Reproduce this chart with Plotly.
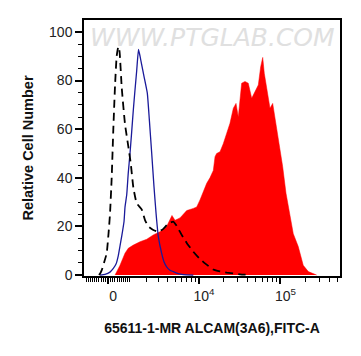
import numpy as np
import plotly.graph_objects as go

# Biexponential display: position (decades) = asinh(value / W) / ln(10)
W = 1548.0

def biex(v):
    return np.arcsinh(np.asarray(v, dtype=float) / W) / np.log(10)

# Red filled histogram (stained sample)
red_x = [0.086, 0.147, 0.208, 0.248, 0.310, 0.392, 0.474, 0.554, 0.636, 0.718,
         0.783, 0.820, 0.881, 0.963, 1.044, 1.086, 1.126, 1.166, 1.208, 1.248,
         1.289, 1.310, 1.330, 1.371, 1.411, 1.453, 1.493, 1.534, 1.567, 1.595,
         1.636, 1.677, 1.717, 1.759, 1.799, 1.840, 1.869, 1.894, 1.913, 1.950,
         1.983, 2.016, 2.056, 2.097, 2.138, 2.179, 2.219, 2.268, 2.329, 2.390,
         2.452, 2.554]
red_y = [0, 4, 9, 11, 12.3, 13.7, 14.7, 16.5, 17.8, 20,
         24.5, 22.5, 23.5, 26.5, 27.4, 28, 30.9, 34, 37.7, 40,
         43, 48.7, 50, 50.7, 54, 58.3, 62.4, 68.6, 70.6, 65,
         78.9, 79.6, 78.9, 72.7, 75.4, 78.2, 85.7, 89.5, 83, 75.4,
         68.6, 70.6, 62.4, 52.8, 44.6, 33.6, 25.4, 17, 11.7, 4,
         1.4, 0]

# Black dashed histogram (blank control)
ctrl_x = [-0.110, -0.098, -0.077, -0.049, -0.016, 0.006, 0.024, 0.045, 0.065, 0.086,
          0.106, 0.126, 0.141, 0.168, 0.208, 0.248, 0.278, 0.310, 0.351, 0.412,
          0.453, 0.493, 0.554, 0.616, 0.677, 0.734, 0.799, 0.845, 0.902, 0.967,
          1.044, 1.114, 1.187, 1.289, 1.371, 1.453, 1.616, 1.738]
ctrl_y = [0, 0.5, 2, 5, 9, 17, 25, 40, 60, 78,
          90, 94, 92, 77, 62, 53, 46, 36, 29.5, 27,
          22.6, 20, 18.5, 17.8, 19, 21, 22, 20, 16.5, 13,
          9.6, 7, 4.8, 2.3, 1.5, 1, 0.3, 0]

# Blue histogram (isotype / secondary control)
iso_x = [-0.098, -0.037, 0.024, 0.065, 0.098, 0.126, 0.147, 0.168, 0.196, 0.208,
         0.229, 0.248, 0.269, 0.290, 0.310, 0.330, 0.351, 0.373, 0.392, 0.412,
         0.441, 0.481, 0.506, 0.535, 0.563, 0.588, 0.616, 0.657, 0.685, 0.718,
         0.759, 0.799, 0.857, 0.922, 1.044]
iso_y = [0, 0.3, 1.2, 2.7, 4.5, 8, 12, 16, 22, 28,
         33, 42, 50, 59, 68, 76, 84, 92.8, 90, 86.5,
         81.6, 74.8, 63.8, 50, 36.3, 25.4, 15.8, 8.9, 5.5, 3.4,
         2, 1.4, 0.6, 0.2, 0]

# Axis ticks
x_major_values = [0, 1e4, 1e5]
x_major_text = ["0", "10<sup>4</sup>", "10<sup>5</sup>"]
x_minor_values = ([-1000 + 100 * i for i in range(10)] + [100 * i for i in range(1, 10)]
                  + [1000 * i for i in range(1, 10)] + [10000 * i for i in range(2, 10)]
                  + [100000 * i for i in range(2, 6)])
y_major_values = [0, 20, 40, 60, 80, 100]

FONT = "Liberation Sans, Arial, sans-serif"

fig = go.Figure()
fig.add_trace(go.Scatter(x=red_x, y=red_y, mode="lines", fill="tozeroy",
                         fillcolor="#ff0000", line=dict(color="#ff0000", width=0.5),
                         hoverinfo="skip", showlegend=False))
fig.add_trace(go.Scatter(x=iso_x, y=iso_y, mode="lines",
                         line=dict(color="#1a1a9a", width=1.3, shape="spline", smoothing=0.4),
                         showlegend=False))
fig.add_trace(go.Scatter(x=ctrl_x, y=ctrl_y, mode="lines",
                         line=dict(color="#000000", width=1.8, dash="8px,5px",
                                   shape="spline", smoothing=0.4),
                         showlegend=False))

fig.add_annotation(text="<i>WWW.PTGLAB.COM</i>", xref="paper", yref="paper", x=0.5, y=0.995,
                   xanchor="center", yanchor="top", showarrow=False,
                   font=dict(family="DejaVu Sans, sans-serif", size=25, color="#e0e0e0"))

# The page body adds an 8 px margin, so the figure is sized/margined to compensate.
fig.update_layout(
    width=345, height=340,
    margin=dict(l=76, r=13, t=12, b=72, autoexpand=False),
    paper_bgcolor="white", plot_bgcolor="white",
    font=dict(family=FONT, color="#222222"),
    xaxis=dict(
        range=[-0.294, 2.84], showgrid=False, zeroline=False, automargin=False,
        showline=True, linecolor="black", linewidth=1.5, mirror=True,
        tickmode="array", tickvals=list(biex(x_major_values)), ticktext=x_major_text,
        ticks="outside", ticklen=6, tickwidth=1.5, tickcolor="black",
        ticklabelshift=5,
        tickfont=dict(size=14, color="#222222"),
        minor=dict(tickmode="array", tickvals=list(biex(x_minor_values)),
                   ticks="outside", ticklen=4, tickwidth=1, tickcolor="black"),
        title=dict(text="<b>65611-1-MR ALCAM(3A6),FITC-A</b>", standoff=21,
                   font=dict(size=14, color="#111111")),
    ),
    yaxis=dict(
        range=[-0.4, 104.9], showgrid=False, zeroline=False, automargin=False,
        showline=True, linecolor="black", linewidth=1.5, mirror=True,
        tickmode="array", tickvals=y_major_values,
        ticks="outside", ticklen=7, tickwidth=1.5, tickcolor="black",
        tickfont=dict(size=14, color="#222222"),
        minor=dict(dtick=5, tick0=0, ticks="outside", ticklen=4, tickwidth=1,
                   tickcolor="black"),
        title=dict(text="<b>Relative Cell Number</b>", standoff=12,
                   font=dict(size=14.5, color="#111111")),
    ),
)

fig.write_html("out.html")
